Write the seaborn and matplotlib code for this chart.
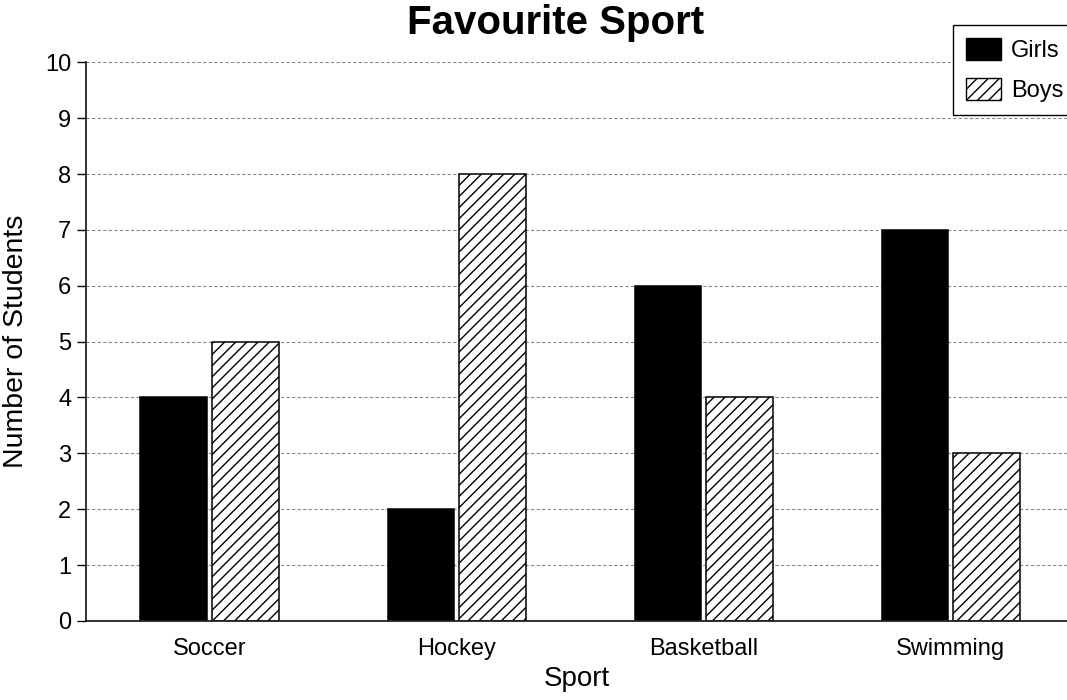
import matplotlib
matplotlib.use("Agg")
import matplotlib.pyplot as plt
import seaborn as sns
import pandas as pd
from matplotlib.patches import Patch

sports = ["Soccer", "Hockey", "Basketball", "Swimming"]
girls = [4, 2, 6, 7]
boys = [5, 8, 4, 3]
groups = ["Girls", "Boys"]

df = pd.DataFrame({
    "Sport": sports * 2,
    "Count": girls + boys,
    "Group": ["Girls"] * len(sports) + ["Boys"] * len(sports),
})

sns.set_style("white")
plt.rcParams["font.family"] = ["Liberation Sans", "DejaVu Sans"]
plt.rcParams["hatch.linewidth"] = 1.0
plt.rcParams["text.color"] = "black"
plt.rcParams["axes.labelcolor"] = "black"
plt.rcParams["xtick.color"] = "black"
plt.rcParams["ytick.color"] = "black"

fig = plt.figure(figsize=(10.67, 7), dpi=100)
ax = fig.add_axes([0.0806, 0.113, 0.9194, 0.798])

sns.barplot(data=df, x="Sport", y="Count", hue="Group", hue_order=groups,
            palette={"Girls": "black", "Boys": "white"}, width=0.58, gap=0.07,
            edgecolor="black", linewidth=1.1, ax=ax, legend=False)

n = len(sports)
for i, bar in enumerate(ax.patches[:2 * n]):
    if i >= n:
        bar.set_hatch("///")

ax.set_ylim(0, 10)
ax.set_xlim(-0.5, 3.47)
ax.set_yticks(range(0, 11))
ax.yaxis.grid(True, linestyle=(0, (3, 2)), color="#8a8a8a", linewidth=0.8)
ax.set_axisbelow(True)
for s in ["top", "right"]:
    ax.spines[s].set_visible(False)
for s in ["left", "bottom"]:
    ax.spines[s].set_color("#222222")
    ax.spines[s].set_linewidth(1.3)
ax.tick_params(axis="y", left=True, length=6.5, width=1, labelsize=17, pad=4)
ax.tick_params(axis="x", bottom=False, labelsize=17, pad=9)

ax.set_xlabel("Sport", fontsize=20, labelpad=4)
ax.set_ylabel("Number of Students", fontsize=20.5, labelpad=12)
fig.suptitle("Favourite Sport", fontsize=29, fontweight="bold", x=0.521, y=0.995)

handles = [Patch(facecolor="black", edgecolor="black", label="Girls"),
           Patch(facecolor="white", edgecolor="black", hatch="///", label="Boys")]
fig.legend(handles=handles, loc="upper left", bbox_to_anchor=(0.893, 0.964),
           borderaxespad=0, fontsize=17, frameon=True, fancybox=False,
           edgecolor="black", framealpha=1, handlelength=1.48, handleheight=1.06,
           borderpad=0.55, labelspacing=0.68, handletextpad=0.42)

fig.savefig("out.png", dpi=100, facecolor="white")
